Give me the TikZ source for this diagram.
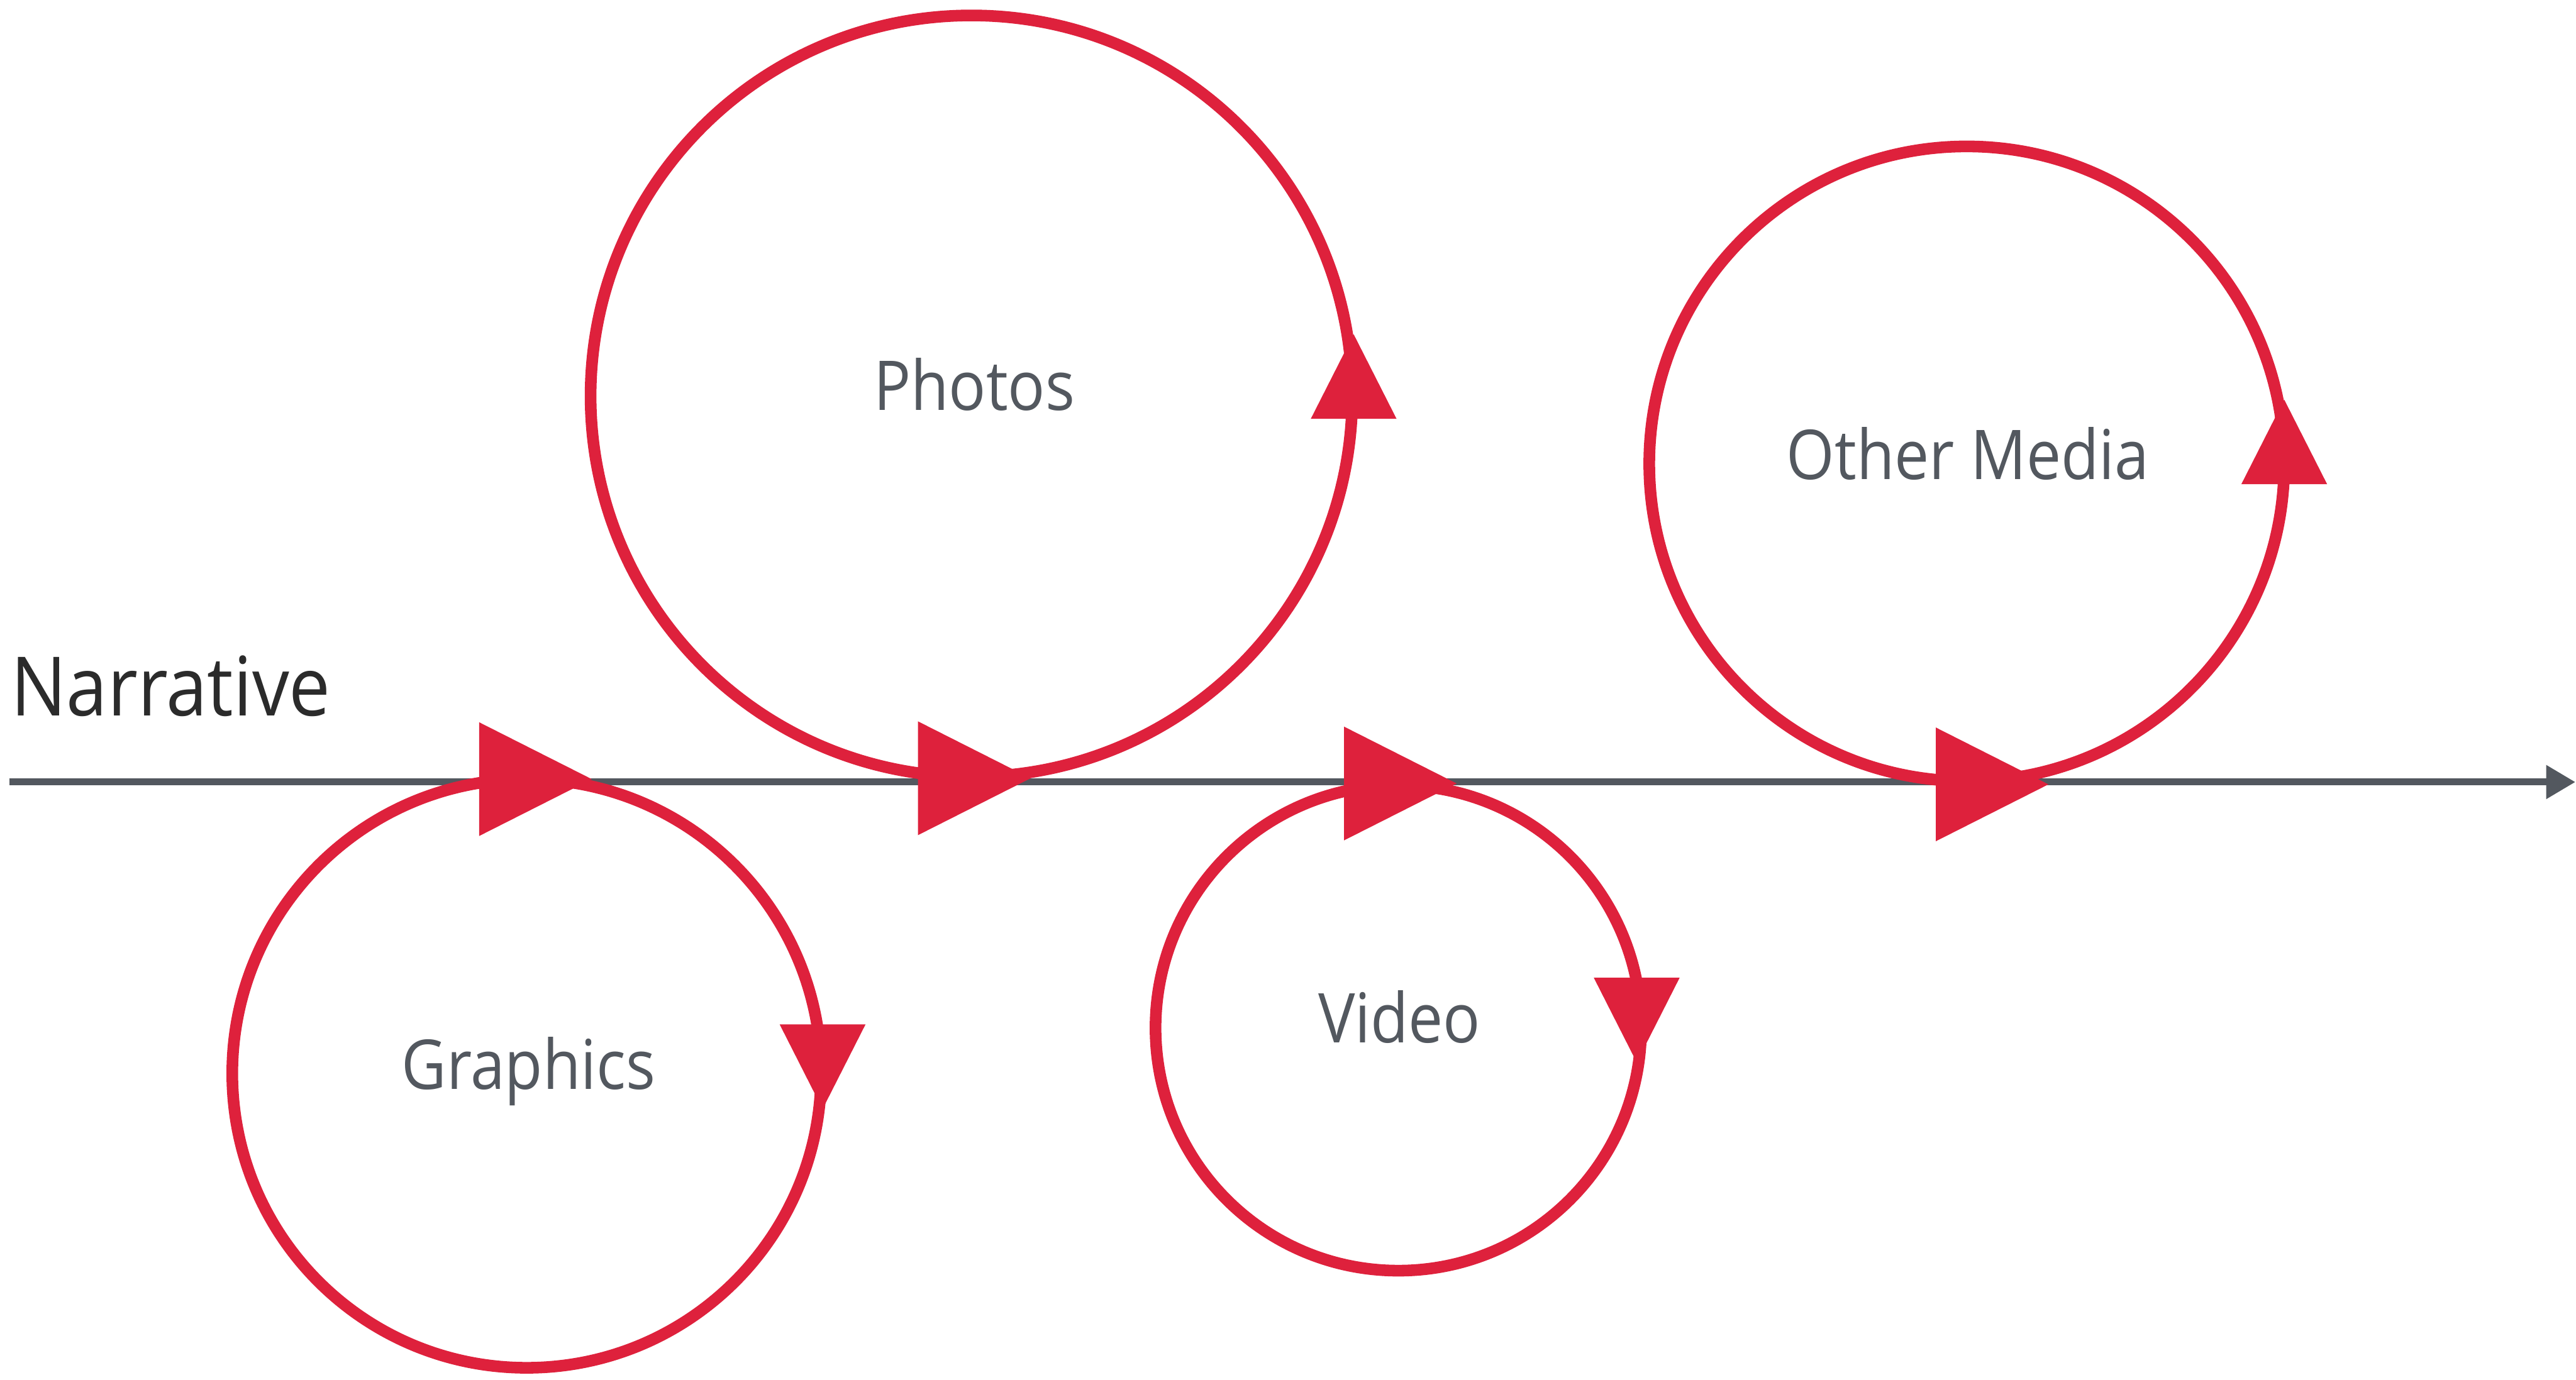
\documentclass[tikz,border=0pt]{standalone}
\usepackage{fontspec}
\setmainfont{Open Sans}[FakeStretch=0.9]
\usetikzlibrary{arrows.meta}

\definecolor{loopred}{HTML}{DE213C}
\definecolor{axisgray}{HTML}{53585F}
\definecolor{titlegray}{HTML}{2B2B2B}

\begin{document}
\begin{tikzpicture}[
	loop/.style={draw=loopred, line width=0.2cm},
	media/.style={text=axisgray, font=\fontsize{33.5}{40}\selectfont, anchor=base, inner sep=0pt},
	bighead/.pic={\fill[loopred] (0,0.975) -- (1.93,0) -- (0,-0.975) -- cycle;},
	smallhead/.pic={\fill[loopred] (-0.735,0) -- (0.735,0) -- (0,1.45) -- cycle;}
	]

	\useasboundingbox (0,0) rectangle (44.14,23.65);

	% the time line
	\coordinate (start) at (0.16,10.245);
	\coordinate (end) at (44.13,10.245);
	\draw [axisgray, line width=0.12cm, -{Triangle[length=0.5cm,width=0.55cm]}] (start) -- (end);
	\node (narr) at (0.18,11.38) [anchor=base west, inner sep=0pt, text=titlegray,
		font=\fontsize{40}{48}\selectfont] {Narrative};

	% one loop for every medium
	\coordinate (P) at (16.645,16.86);
	\coordinate (G) at (9.025,5.25);
	\coordinate (V) at (23.96,6.03);
	\coordinate (O) at (33.70,15.70);

	\draw[loop] (P) circle (6.525);
	\draw[loop] (G) circle (5.045);
	\draw[loop] (V) circle (4.16);
	\draw[loop] (O) circle (5.44);

	% heads on the time line
	\pic at (8.21,10.295) {bighead};
	\pic at (15.73,10.31) {bighead};
	\pic at (23.03,10.22) {bighead};
	\pic at (33.17,10.205) {bighead};

	% heads on the right side of each loop
	\pic at (23.195,16.47) {smallhead};
	\pic at (39.14,15.35) {smallhead};
	\pic[rotate=180] at (14.095,6.09) {smallhead};
	\pic[rotate=180] at (28.045,6.89) {smallhead};

	\node (photos) at (16.695,16.62) [media] {Photos};
	\node (other) at (33.72,15.43) [media] {Other Media};
	\node (graphics) at (9.055,4.98) [media] {Graphics};
	\node (video) at (23.98,5.775) [media] {Video};

\end{tikzpicture}
\end{document}
